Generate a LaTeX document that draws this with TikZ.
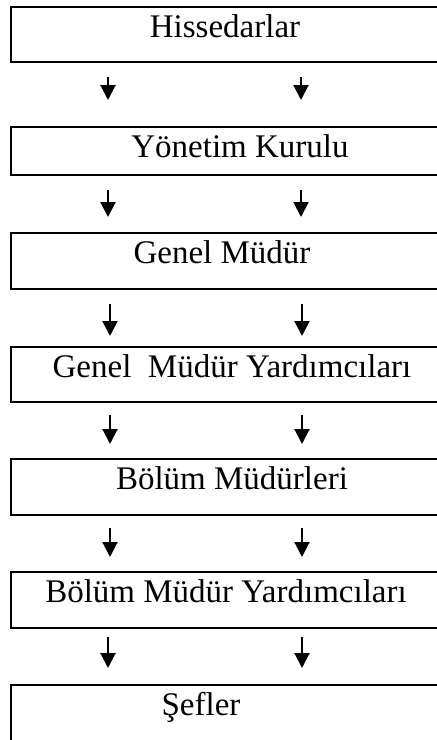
\documentclass[tikz,border=0pt]{standalone}
\usepackage{fontspec}
\setmainfont{Liberation Serif}
\usetikzlibrary{arrows.meta}
\tikzset{
  orgbox/.style={draw, line width=2pt, anchor=north west, minimum width=470pt,
    inner sep=0pt},
  orgtext/.style={anchor=base, inner sep=0pt, font=\fontsize{33}{40}\selectfont},
  downarrow/.style={line width=2pt, -{Triangle[width=15pt,length=15pt]}}
}
\begin{document}
\begin{tikzpicture}[x=1pt,y=-1pt]
\useasboundingbox (0,0) rectangle (437,740);
\clip (0,0) rectangle (437,740);
\node[orgbox, minimum height=55pt] (b1) at (10,6) {};
\node[orgbox, minimum height=48pt] (b2) at (10,126) {};
\node[orgbox, minimum height=56pt] (b3) at (10,232) {};
\node[orgbox, minimum height=55pt] (b4) at (10,346) {};
\node[orgbox, minimum height=56pt] (b5) at (10,458) {};
\node[orgbox, minimum height=56pt] (b6) at (10,571) {};
\node[orgbox, minimum height=70pt] (b7) at (10,684) {};
\node[orgtext] (t1) at (225,37) {Hissedarlar};
\node[orgtext] (t2) at (240,157) {Yönetim Kurulu};
\node[orgtext] (t3) at (222,263) {Genel Müdür};
\node[orgtext] (t4) at (232,377) {Genel~~Müdür Yardımcıları};
\node[orgtext] (t5) at (232,489) {Bölüm Müdürleri};
\node[orgtext] (t6) at (226,602) {Bölüm Müdür Yardımcıları};
\node[orgtext] (t7) at (201,715) {Şefler};
% arrows
\coordinate (a1l) at (108,77);  \coordinate (a1le) at (108,100);
\coordinate (a1r) at (301,77);  \coordinate (a1re) at (301,100);
\coordinate (a2l) at (108,190); \coordinate (a2le) at (108,217);
\coordinate (a2r) at (301,190); \coordinate (a2re) at (301,217);
\coordinate (a3l) at (110,304); \coordinate (a3le) at (110,336);
\coordinate (a3r) at (302,304); \coordinate (a3re) at (302,336);
\coordinate (a4l) at (110,415); \coordinate (a4le) at (110,444);
\coordinate (a4r) at (302,415); \coordinate (a4re) at (302,444);
\coordinate (a5l) at (110,528); \coordinate (a5le) at (110,557);
\coordinate (a5r) at (302,528); \coordinate (a5re) at (302,557);
\coordinate (a6l) at (108,637); \coordinate (a6le) at (108,668);
\coordinate (a6r) at (302,637); \coordinate (a6re) at (302,668);
\foreach \i in {1,...,6}{
  \draw[downarrow] (a\i l) -- (a\i le);
  \draw[downarrow] (a\i r) -- (a\i re);
}
\end{tikzpicture}
\end{document}
